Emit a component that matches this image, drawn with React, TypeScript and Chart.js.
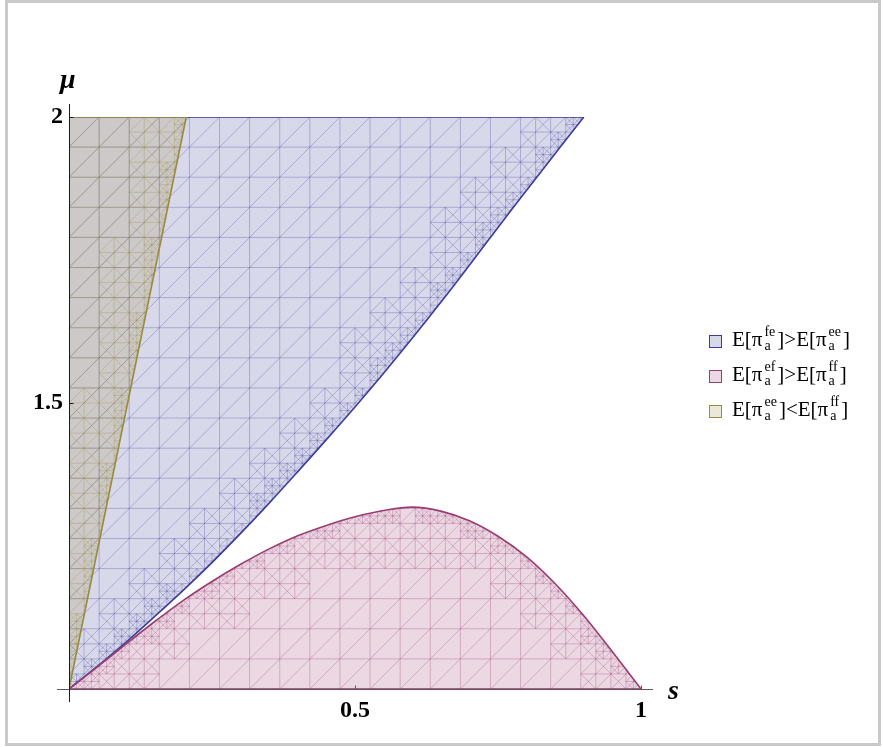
import React, { useEffect, useRef } from 'react';
import { Chart, registerables } from 'chart.js';

Chart.register(...registerables);

// ---------- data ----------
const xTickValues = [0.5, 1];
const xTickLabels = ['0.5', '1'];
const yTickValues = [1.5, 2];
const yTickLabels = ['1.5', '2'];
const xAxisTitle = 's';
const yAxisTitle = 'μ';
const sRange = [0, 1];
const muRange = [1, 2];

// boundary of region 1 (E[π_a^fe] > E[π_a^ee]) : region lies above this curve
const blueS = [0, 0.05, 0.1, 0.15, 0.2, 0.25, 0.3, 0.35, 0.4, 0.45, 0.5, 0.55, 0.6, 0.65, 0.7, 0.75, 0.8, 0.85, 0.9];
const blueMu = [1.0, 1.04, 1.082, 1.127, 1.173, 1.221, 1.272, 1.325, 1.38, 1.436, 1.493, 1.552, 1.613, 1.676, 1.741, 1.807, 1.872, 1.936, 2.0];

// boundary of region 2 (E[π_a^ef] > E[π_a^ff]) : region lies below this curve
const pinkS = [0, 0.05, 0.1, 0.15, 0.2, 0.25, 0.3, 0.35, 0.4, 0.45, 0.5, 0.55, 0.6, 0.65, 0.7, 0.75, 0.8, 0.85, 0.9, 0.95, 1.0];
const pinkMu = [1.0, 1.039, 1.079, 1.118, 1.155, 1.188, 1.218, 1.245, 1.268, 1.286, 1.301, 1.312, 1.318, 1.311, 1.294, 1.267, 1.231, 1.184, 1.128, 1.065, 1.0];

// boundary of region 3 (E[π_a^ee] < E[π_a^ff]) : region lies above this line
const oliveS = [0, 0.205];
const oliveMu = [1, 2];

// legend
const legendSupLeft = ['fe', 'ef', 'ee'];
const legendOps = ['>', '>', '<'];
const legendSupRight = ['ee', 'ff', 'ff'];
const legendSub = 'a';

const seriesRGB = ['61,61,153', '153,61,113', '153,139,61'];

const MESH_DIVS = 19;

// ---------- helpers ----------
const pts = (xs: number[], ys: number[]) => xs.map((x, i) => ({ x, y: ys[i] }));
const solid = (i: number) => `rgb(${seriesRGB[i]})`;
const alpha = (i: number, a: number) => `rgba(${seriesRGB[i]},${a})`;

const meshPlugin = {
  id: 'regionMesh',
  beforeDatasetDraw(chart: any, args: any) {
    const ds = chart.data.datasets[args.index];
    if (!ds.mesh) return;
    const meta = args.meta;
    const xs = chart.scales.x;
    const ys = chart.scales.y;
    const X = (v: number) => xs.getPixelForValue(v);
    const Y = (v: number) => ys.getPixelForValue(v);
    if (meta.dataset && meta.dataset.updateControlPoints) meta.dataset.updateControlPoints(chart.chartArea, 'x');
    const p = meta.data as any[];
    const curved = (ds.tension || 0) > 0;
    const path = new Path2D();
    path.moveTo(p[0].x, p[0].y);
    for (let i = 1; i < p.length; i++) {
      const a = p[i - 1];
      const b = p[i];
      if (curved) path.bezierCurveTo(a.cp2x, a.cp2y, b.cp1x, b.cp1y, b.x, b.y);
      else path.lineTo(b.x, b.y);
    }
    const yT = Y(ds.mesh.fillTo);
    path.lineTo(p[p.length - 1].x, yT);
    path.lineTo(p[0].x, yT);
    path.closePath();

    const ctx = chart.ctx as CanvasRenderingContext2D;
    const s0 = sRange[0], s1 = sRange[1], m0 = muRange[0], m1 = muRange[1];
    const step = (s1 - s0) / MESH_DIVS;
    const mstep = (m1 - m0) / MESH_DIVS;
    const e = 1e-4;
    const inside = (s: number, m: number) => {
      const ss = Math.min(Math.max(s, s0 + e), s1 - e);
      const mm = Math.min(Math.max(m, m0 + e), m1 - e);
      return ctx.isPointInPath(path, X(ss), Y(mm));
    };

    ctx.save();
    ctx.clip(path);
    ctx.strokeStyle = ds.mesh.color;
    ctx.lineWidth = 1;
    ctx.beginPath();
    for (let k = 0; k <= MESH_DIVS; k++) {
      const s = s0 + k * step;
      ctx.moveTo(X(s), Y(m0));
      ctx.lineTo(X(s), Y(m1));
      const m = m0 + k * mstep;
      ctx.moveTo(X(s0), Y(m));
      ctx.lineTo(X(s1), Y(m));
    }
    for (let k = -MESH_DIVS; k <= MESH_DIVS; k++) {
      ctx.moveTo(X(s0 + k * step), Y(m0));
      ctx.lineTo(X(s1 + k * step), Y(m1));
    }
    // adaptive refinement near the curved boundary
    const st: boolean[][] = [];
    for (let i = 0; i <= MESH_DIVS; i++) {
      st.push([]);
      for (let j = 0; j <= MESH_DIVS; j++) st[i].push(inside(s0 + i * step, m0 + j * mstep));
    }
    const mixed = (i: number, j: number) => {
      if (i < 0 || j < 0 || i >= MESH_DIVS || j >= MESH_DIVS) return false;
      const a = st[i][j];
      return st[i + 1][j] !== a || st[i][j + 1] !== a || st[i + 1][j + 1] !== a;
    };
    const refine = (sa: number, ma: number, ds_: number, dm: number, depth: number) => {
      const sb = sa + ds_, mb = ma + dm, sc = sa + ds_ / 2, mc = ma + dm / 2;
      ctx.moveTo(X(sc), Y(ma)); ctx.lineTo(X(sc), Y(mb));
      ctx.moveTo(X(sa), Y(mc)); ctx.lineTo(X(sb), Y(mc));
      ctx.moveTo(X(sc), Y(ma)); ctx.lineTo(X(sb), Y(mc)); ctx.lineTo(X(sc), Y(mb)); ctx.lineTo(X(sa), Y(mc)); ctx.closePath();
      if (depth <= 0) return;
      const subs = [[sa, ma], [sc, ma], [sa, mc], [sc, mc]];
      for (const [a, b] of subs) {
        const c = [inside(a, b), inside(a + ds_ / 2, b), inside(a, b + dm / 2), inside(a + ds_ / 2, b + dm / 2)];
        if (c.some((v) => v !== c[0])) refine(a, b, ds_ / 2, dm / 2, depth - 1);
      }
    };
    for (let i = 0; i < MESH_DIVS; i++) {
      for (let j = 0; j < MESH_DIVS; j++) {
        const m = mixed(i, j);
        const near = m || mixed(i - 1, j) || mixed(i + 1, j) || mixed(i, j - 1) || mixed(i, j + 1);
        if (near) refine(s0 + i * step, m0 + j * mstep, step, mstep, m ? 1 : 0);
      }
    }
    ctx.stroke();
    ctx.restore();
  },
  afterDatasetsDraw(chart: any) {
    const ctx = chart.ctx as CanvasRenderingContext2D;
    const xs = chart.scales.x;
    const ys = chart.scales.y;
    const X = (v: number) => xs.getPixelForValue(v);
    const Y = (v: number) => ys.getPixelForValue(v);
    ctx.save();
    const ax = Math.round(X(sRange[0])) + 0.5;
    const ay = Math.round(Y(muRange[0])) + 0.5;
    // x axis
    ctx.strokeStyle = '#5a5a5a';
    ctx.lineWidth = 1;
    ctx.beginPath();
    ctx.moveTo(X(sRange[0]) - 12, ay);
    ctx.lineTo(X(sRange[1]) + 12, ay);
    for (const v of xTickValues) {
      const x = Math.round(X(v)) + 0.5;
      ctx.moveTo(x, ay);
      ctx.lineTo(x, ay - 4);
    }
    ctx.stroke();
    // y axis
    ctx.strokeStyle = '#1a1a1a';
    ctx.beginPath();
    ctx.moveTo(ax, Y(muRange[0]) + 13);
    ctx.lineTo(ax, Y(muRange[1]) - 13);
    for (const v of yTickValues) {
      const y = Math.round(Y(v)) + 0.5;
      ctx.moveTo(ax, y);
      ctx.lineTo(ax + 4, y);
    }
    ctx.stroke();
    // axis titles
    ctx.fillStyle = '#000';
    ctx.font = 'italic bold 28px "Liberation Serif"';
    ctx.textAlign = 'left';
    ctx.textBaseline = 'alphabetic';
    ctx.fillText(yAxisTitle, X(sRange[0]) - 9, Y(muRange[1]) - 29);
    ctx.fillText(xAxisTitle, X(sRange[1]) + 27, Y(muRange[0]) + 10);
    ctx.restore();
  },
};

const tickFont = { family: '"Liberation Serif"', size: 24, weight: 'bold' as const };

function Scripts({ sup, sub }: { sup: string; sub: string }) {
  return (
    <span
      style={{
        display: 'inline-block',
        verticalAlign: '-4px',
        fontSize: 14,
        lineHeight: '14px',
        textAlign: 'left',
        marginLeft: 2,
        marginRight: 2,
      }}
    >
      <span style={{ display: 'block' }}>{sup}</span>
      <span style={{ display: 'block' }}>{sub}</span>
    </span>
  );
}

function Legend() {
  return (
    <>
      {legendSupLeft.map((supL, i) => (
        <div key={i}>
          <div
            style={{
              position: 'absolute',
              left: 709,
              top: 335 + i * 35,
              width: 13,
              height: 13,
              boxSizing: 'border-box',
              border: `1.5px solid ${solid(i)}`,
              background: alpha(i, 0.2),
            }}
          />
          <div
            style={{
              position: 'absolute',
              left: 732,
              top: 325 + i * 35,
              fontFamily: '"Liberation Serif", serif',
              fontSize: 21,
              lineHeight: '21px',
              whiteSpace: 'nowrap',
              color: '#000',
            }}
          >
            E[π<Scripts sup={supL} sub={legendSub} />]{legendOps[i]}E[π
            <Scripts sup={legendSupRight[i]} sub={legendSub} />]
          </div>
        </div>
      ))}
    </>
  );
}

export default function App() {
  const ref = useRef<HTMLCanvasElement>(null);
  useEffect(() => {
    const chart = new Chart(ref.current as HTMLCanvasElement, {
      type: 'line',
      data: {
        datasets: [
          {
            label: 'E[π_a^fe]>E[π_a^ee]',
            data: pts(blueS, blueMu),
            borderColor: solid(0),
            backgroundColor: alpha(0, 0.2),
            borderWidth: 1.6,
            fill: { value: muRange[1] },
            tension: 0.35,
            pointRadius: 0,
            order: 6,
            mesh: { color: alpha(0, 0.3), fillTo: muRange[1] },
          } as any,
          {
            label: 'edge1',
            data: [
              { x: blueS[0], y: muRange[1] },
              { x: blueS[blueS.length - 1], y: muRange[1] },
            ],
            borderColor: solid(0),
            borderWidth: 1.6,
            fill: false,
            pointRadius: 0,
            order: 5,
          },
          {
            label: 'E[π_a^ef]>E[π_a^ff]',
            data: pts(pinkS, pinkMu),
            borderColor: solid(1),
            backgroundColor: alpha(1, 0.2),
            borderWidth: 1.6,
            fill: { value: muRange[0] },
            tension: 0.35,
            pointRadius: 0,
            order: 4,
            mesh: { color: alpha(1, 0.3), fillTo: muRange[0] },
          } as any,
          {
            label: 'edge2',
            data: [
              { x: pinkS[0], y: muRange[0] },
              { x: pinkS[pinkS.length - 1], y: muRange[0] },
            ],
            borderColor: solid(1),
            borderWidth: 1.6,
            fill: false,
            pointRadius: 0,
            order: 3,
          },
          {
            label: 'E[π_a^ee]<E[π_a^ff]',
            data: pts(oliveS, oliveMu),
            borderColor: solid(2),
            backgroundColor: alpha(2, 0.2),
            borderWidth: 1.6,
            fill: { value: muRange[1] },
            tension: 0,
            pointRadius: 0,
            order: 2,
            mesh: { color: alpha(2, 0.3), fillTo: muRange[1] },
          } as any,
          {
            label: 'edge3',
            data: [
              { x: oliveS[0], y: muRange[1] },
              { x: oliveS[oliveS.length - 1], y: muRange[1] },
            ],
            borderColor: solid(2),
            borderWidth: 1.6,
            fill: false,
            pointRadius: 0,
            order: 1,
          },
        ],
      },
      options: {
        responsive: false,
        animation: false,
        devicePixelRatio: 1,
        layout: { padding: { left: 0, top: 117, right: 242, bottom: 0 } },
        plugins: { legend: { display: false }, tooltip: { enabled: false } },
        scales: {
          x: {
            type: 'linear',
            min: sRange[0],
            max: sRange[1],
            grid: { display: false, drawTicks: false },
            border: { display: false },
            afterBuildTicks: (scale: any) => {
              scale.ticks = xTickValues.map((v) => ({ value: v }));
            },
            afterFit: (scale: any) => {
              scale.height = 58;
            },
            ticks: {
              padding: 7,
              color: '#000',
              font: tickFont,
              maxRotation: 0,
              autoSkip: false,
              callback: (v: any) => {
                const i = xTickValues.indexOf(Number(v));
                return i >= 0 ? xTickLabels[i] : '';
              },
            },
          },
          y: {
            type: 'linear',
            min: muRange[0],
            max: muRange[1],
            grid: { display: false, drawTicks: false },
            border: { display: false },
            afterBuildTicks: (scale: any) => {
              scale.ticks = yTickValues.map((v) => ({ value: v }));
            },
            afterFit: (scale: any) => {
              scale.width = 69;
            },
            ticks: {
              padding: 6,
              color: '#000',
              font: tickFont,
              autoSkip: false,
              callback: (v: any) => {
                const i = yTickValues.indexOf(Number(v));
                return i >= 0 ? yTickLabels[i] : '';
              },
            },
          },
        },
      },
      plugins: [meshPlugin],
    } as any);
    return () => chart.destroy();
  }, []);

  return (
    <div style={{ position: 'absolute', left: 0, top: 0, width: 883, height: 747, background: '#fff' }}>
      <div
        style={{
          position: 'absolute',
          left: 5,
          top: 0,
          width: 876,
          height: 746,
          boxSizing: 'border-box',
          border: '3px solid #c9c9c9',
        }}
      />
      <canvas
        ref={ref}
        width={883}
        height={747}
        style={{ position: 'absolute', left: 0, top: 0, width: 883, height: 747 }}
      />
      <Legend />
    </div>
  );
}
